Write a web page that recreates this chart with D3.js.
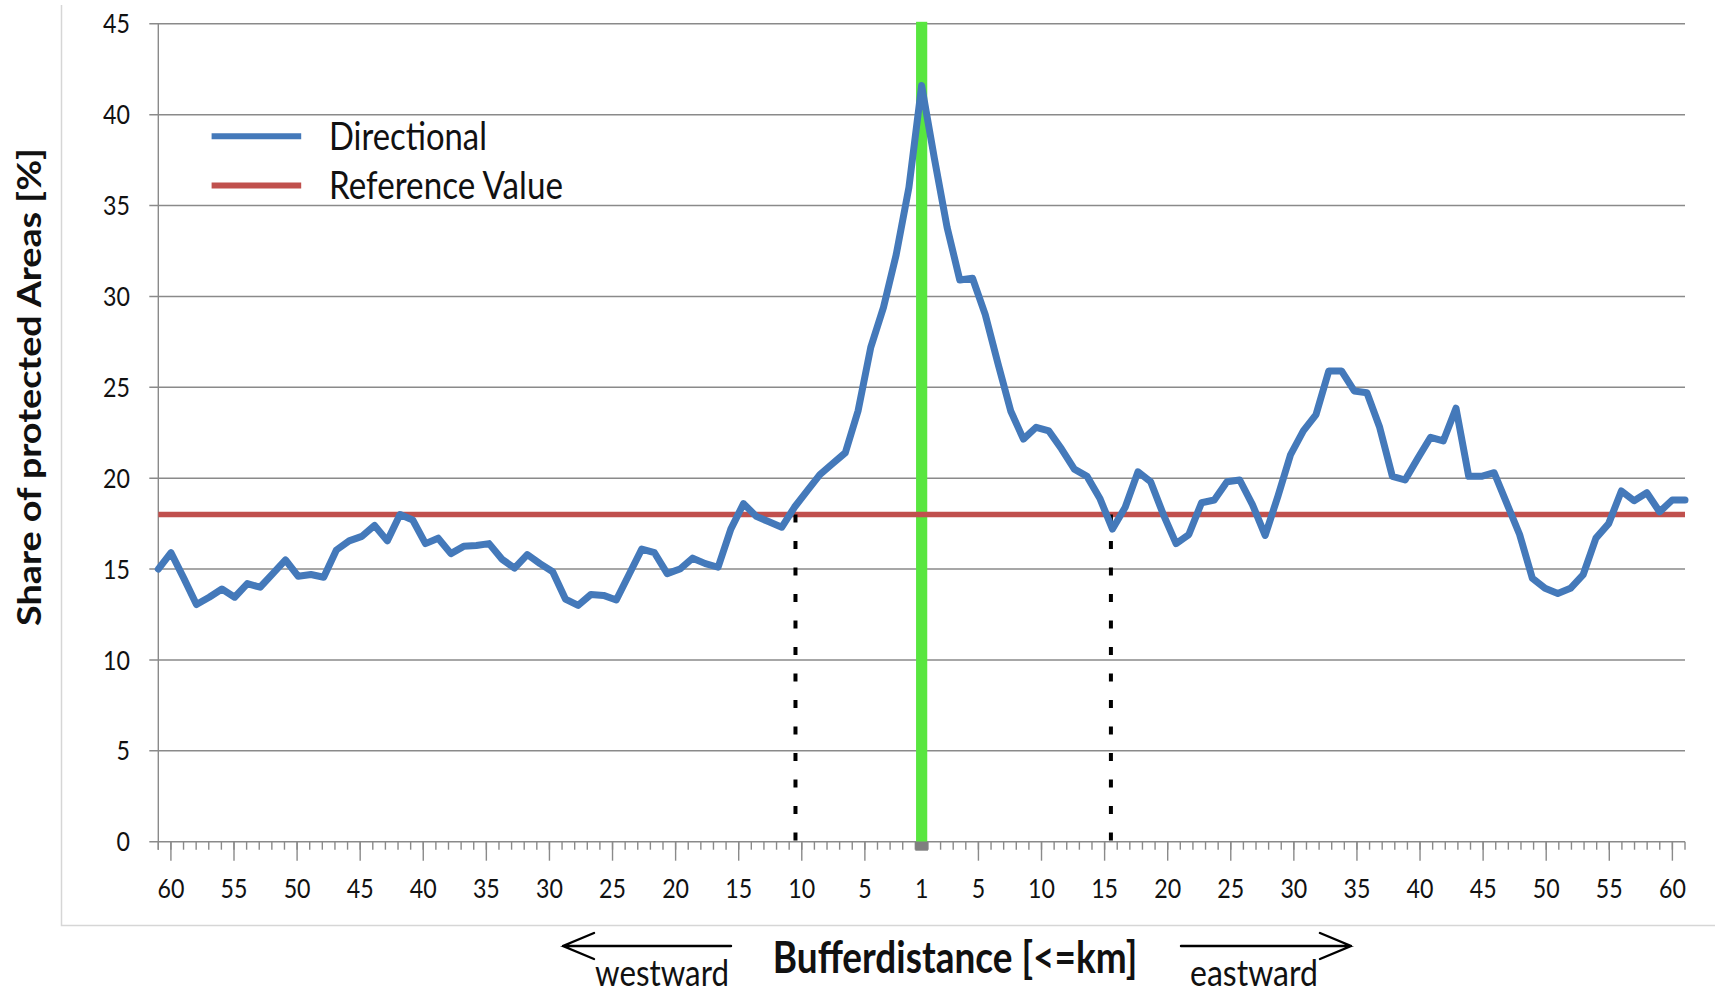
<!DOCTYPE html>
<html>
<head>
<meta charset="utf-8">
<script src="https://cdn.jsdelivr.net/npm/d3@7"></script>
<style>
  html, body { margin: 0; padding: 0; background: #ffffff; }
  svg { display: block; }
</style>
</head>
<body>
<svg id="chart" width="1715" height="994"></svg>
<script>
// ---------------- DATA ----------------
// Share of protected areas [%], from 60 km westward, through the centre, to 60 km eastward
const directional = [
  15.0, 15.9, 14.5, 13.05, 13.45, 13.9, 13.45, 14.2, 14.0, 14.75,
  15.5, 14.6, 14.7, 14.55, 16.05, 16.55, 16.8, 17.4, 16.55, 18.0,
  17.7, 16.4, 16.7, 15.85, 16.25, 16.3, 16.4, 15.55, 15.05, 15.8,
  15.3, 14.85, 13.35, 13.0, 13.6, 13.55, 13.3, 14.7, 16.1, 15.9,
  14.75, 15.0, 15.6, 15.3, 15.1, 17.2, 18.6, 17.9, 17.6, 17.3,
  18.4, 19.3, 20.2, 20.8, 21.4, 23.7, 27.2, 29.4, 32.3, 36.0,
  41.6,
  37.6, 33.8, 30.9, 31.0, 29.0, 26.3, 23.7, 22.15, 22.8, 22.6,
  21.6, 20.5, 20.1, 18.9, 17.2, 18.4, 20.35, 19.8, 18.0, 16.4,
  16.9, 18.65, 18.8, 19.8, 19.9, 18.55, 16.85, 19.0, 21.3, 22.6,
  23.5, 25.9, 25.9, 24.8, 24.7, 22.8, 20.1, 19.9, 21.1, 22.25,
  22.05, 23.85, 20.1, 20.1, 20.3, 18.6, 16.9, 14.5, 13.94, 13.66,
  13.94, 14.7, 16.7, 17.5, 19.3, 18.76, 19.2, 18.15, 18.8, 18.8
];
const referenceValue = 18;
const legendLabels = ["Directional", "Reference Value"];
const yTicks = [0, 5, 10, 15, 20, 25, 30, 35, 40, 45];
const westTickKm = [60, 55, 50, 45, 40, 35, 30, 25, 20, 15, 10, 5];
const eastTickKm = [5, 10, 15, 20, 25, 30, 35, 40, 45, 50, 55, 60];
const centreTickLabel = "1";
const kmSteps = d3.range(1, 62);          // a small tick for every km on each side
const crossingKm = [-10.5, 15.5];          // negative = westward
const xTitle = "Bufferdistance [<=km]";
const yTitle = "Share of protected Areas [%]";
const directionLabels = ["westward", "eastward"];

// ---------------- LAYOUT ----------------
const plotLeft = 158.3, plotRight = 1685, plotTop = 23.8, plotBottom = 841.7;
const gridColor = "#8a8a8a";
const blue = "#4479ba", red = "#c0504d", green = "#58e63f";
const FONT = "Lato, 'Open Sans', sans-serif";
const SQ = 0.86;   // the reference is horizontally compressed
const tickFont = 27;

const svg = d3.select("#chart");
svg.append("rect").attr("width", 1715).attr("height", 994).attr("fill", "#fff");

const y = d3.scaleLinear().domain([0, 45]).range([plotBottom, plotTop]);
// signed km axis; the 1 km ticks of both sides sit half a unit from the centre
const xKm = d3.scaleLinear().domain([-60.5, 60.5]).range([plotLeft, plotRight]);
const kmPos = km => Math.sign(km) * (Math.abs(km) - 0.5);
const xIdx = d3.scaleLinear().domain([0, directional.length - 1]).range(xKm.range());

// text helper (horizontally compressed like the reference)
function addText(parent, str, o) {
  const t = parent.append("text").text(str)
    .attr("font-family", FONT)
    .attr("font-weight", o.weight || 400)
    .attr("font-size", o.size || 24)
    .attr("fill", "#111")
    .attr("text-anchor", o.anchor || "start");
  let fs = o.size || 24;
  if (o.fit) {
    const w = t.node().getComputedTextLength();
    fs = fs * o.fit / (w * (o.rotate ? 1 : SQ));
    t.attr("font-size", fs);
  }
  let tx = o.x, ty = o.y;
  if (o.cy !== undefined) ty = o.cy + 0.358 * fs;
  if (o.rotate) {
    tx = o.cx + 0.358 * fs * SQ;
    t.attr("transform", `translate(${tx},${o.y}) scale(${SQ},1) rotate(-90)`);
  } else {
    t.attr("transform", `translate(${tx},${ty}) scale(${SQ},1)`);
  }
  return t;
}

// ---------------- FRAME ----------------
svg.append("path")
  .attr("d", `M61.5,5 V925.5 H1715`)
  .attr("fill", "none").attr("stroke", "#d6d6d6").attr("stroke-width", 1.5);

// ---------------- GRID + AXES ----------------
const grid = svg.append("g");
grid.selectAll("line.g").data(yTicks).join("line")
  .attr("x1", plotLeft - 9).attr("x2", plotRight)
  .attr("y1", d => y(d)).attr("y2", d => y(d))
  .attr("stroke", gridColor).attr("stroke-width", 1.4);

// y axis line (extends one small tick below the x axis)
grid.append("line")
  .attr("x1", plotLeft).attr("x2", plotLeft)
  .attr("y1", y(45)).attr("y2", y(0) + 8)
  .attr("stroke", gridColor).attr("stroke-width", 1.4);

// small ticks for every km, both directions
const minorU = kmSteps.flatMap(d => [kmPos(-d), kmPos(d)]);
grid.selectAll("line.mt").data(minorU).join("line")
  .attr("x1", d => xKm(d)).attr("x2", d => xKm(d))
  .attr("y1", y(0)).attr("y2", y(0) + 8)
  .attr("stroke", gridColor).attr("stroke-width", 1.4);

// long ticks at labelled distances
const majorU = westTickKm.map(d => kmPos(-d)).concat(eastTickKm.map(d => kmPos(d)));
grid.selectAll("line.Mt").data(majorU).join("line")
  .attr("x1", d => xKm(d)).attr("x2", d => xKm(d))
  .attr("y1", y(0)).attr("y2", y(0) + 19)
  .attr("stroke", gridColor).attr("stroke-width", 1.4);

// y tick labels
yTicks.forEach(v => addText(svg, String(v), { x: 130, cy: y(v), anchor: "end", size: tickFont }));

// x tick labels
westTickKm.forEach(d => addText(svg, String(d), { x: xKm(kmPos(-d)), cy: 888, anchor: "middle", size: tickFont }));
eastTickKm.forEach(d => addText(svg, String(d), { x: xKm(kmPos(d)), cy: 888, anchor: "middle", size: tickFont }));
addText(svg, centreTickLabel, { x: xKm(0), cy: 888, anchor: "middle", size: tickFont });

// ---------------- CENTRE MARKER ----------------
svg.append("rect")
  .attr("x", xKm(0) - 5.6).attr("width", 11.2)
  .attr("y", y(45) - 2).attr("height", y(0) - y(45) + 2)
  .attr("fill", green);
svg.append("rect")
  .attr("x", xKm(kmPos(-1))).attr("width", xKm(kmPos(1)) - xKm(kmPos(-1)))
  .attr("y", y(0)).attr("height", 9)
  .attr("fill", "#7f7f7f");

// ---------------- REFERENCE LINE ----------------
svg.append("line")
  .attr("x1", xIdx(0)).attr("x2", xIdx(directional.length - 1))
  .attr("y1", y(referenceValue)).attr("y2", y(referenceValue))
  .attr("stroke", red).attr("stroke-width", 5.5);

// dotted drop lines where the profile crosses the reference value
svg.selectAll("line.drop").data(crossingKm).join("line")
  .attr("x1", d => xKm(kmPos(d))).attr("x2", d => xKm(kmPos(d)))
  .attr("y1", y(referenceValue)).attr("y2", y(0))
  .attr("stroke", "#000").attr("stroke-width", 4)
  .attr("stroke-dasharray", "8 18.5");

// ---------------- DIRECTIONAL SERIES ----------------
const line = d3.line().x((d, i) => xIdx(i)).y(d => y(d));
svg.append("path").datum(directional)
  .attr("d", line)
  .attr("fill", "none").attr("stroke", blue).attr("stroke-width", 7)
  .attr("stroke-linejoin", "round").attr("stroke-linecap", "round");

// ---------------- LEGEND ----------------
const legendColors = [blue, red];
const legendY = [136.3, 185.5];
const legendWidths = [158, 234];
legendLabels.forEach((lab, i) => {
  svg.append("line")
    .attr("x1", 211.6).attr("x2", 301.2)
    .attr("y1", legendY[i]).attr("y2", legendY[i])
    .attr("stroke", legendColors[i]).attr("stroke-width", 6);
  addText(svg, lab, { x: 329, cy: legendY[i], size: 36, fit: legendWidths[i] });
});

// ---------------- TITLES ----------------
addText(svg, xTitle, { x: 955, cy: 958, anchor: "middle", weight: 700, size: 34, fit: 364.5 });
addText(svg, yTitle, { cx: 29.5, y: 387, anchor: "middle", weight: 700, size: 32, fit: 478, rotate: true });

// direction arrows
const arrows = svg.append("g").attr("stroke", "#000").attr("stroke-width", 2.4)
  .attr("fill", "none").attr("stroke-linecap", "round");
arrows.append("path").attr("d", "M731,946 H563 M594,933 L563,946 L594,959");
arrows.append("path").attr("d", "M1181,946 H1351 M1320,933 L1351,946 L1320,959");
addText(svg, directionLabels[0], { x: 662, y: 986, anchor: "middle", size: 38, fit: 134 });
addText(svg, directionLabels[1], { x: 1254, y: 986, anchor: "middle", size: 38, fit: 128 });
</script>
</body>
</html>
